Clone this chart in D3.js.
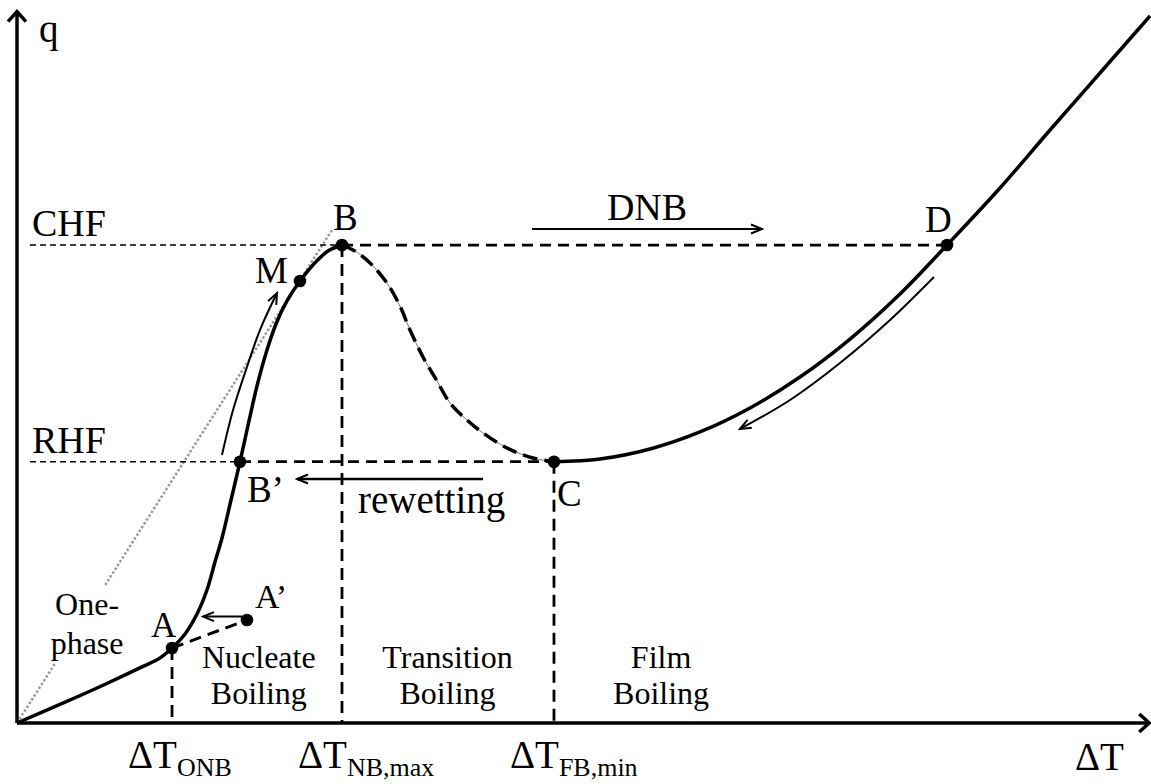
<!DOCTYPE html>
<html><head><meta charset="utf-8">
<script src="https://cdn.jsdelivr.net/npm/d3@7"></script>
<style>
html,body{margin:0;padding:0;background:#fff;}
svg{display:block;}
text{font-family:"Liberation Serif","Times New Roman","DejaVu Serif",serif;fill:#000;}
</style>
</head><body>
<svg id="chart" width="1151" height="784"></svg>
<script>
// ---------- DATA (arbitrary units: ΔT 0-100, q 0-100) ----------
const onePhaseNucleate = [[0,0],[4.0,2.75],[8.0,5.6],[11.2,8.0],[12.6,9.1],[13.72,10.56],
  [14.87,12.54],[15.93,15.35],[16.81,18.73],[17.52,22.68],[18.14,26.06],[18.94,31.41],[19.73,36.76],
  [20.53,42.54],[21.24,47.46],[22.04,52.11],[22.92,56.20],[23.89,59.44],[25.04,62.25],[26.19,64.51],
  [27.52,66.48],[28.76,67.32]];
const transition = [[28.76,67.32],[29.91,66.48],[31.24,64.79],[32.74,61.97],[33.89,58.73],[34.78,55.35],
  [35.93,51.55],[37.17,48.17],[38.32,45.07],[39.82,42.68],[41.24,40.85],[43.36,38.73],[45.66,37.32],[47.52,36.80]];
const film = [[47.52,36.80],[51.59,37.18],[56.02,38.59],[60.44,40.99],[64.87,44.37],[69.29,48.73],
  [73.72,54.08],[78.14,60.42],[82.30,67.32],[86.99,75.35],[91.42,83.52],[95.84,91.55],[100.27,99.58]];
const pointNames = ["A","A’","B","M","B’","C","D"];
const pointX = [13.72,20.35,28.76,25.04,19.73,47.52,82.30];
const pointY = [10.56,14.51,67.32,62.25,36.80,36.80,67.32];
const CHF = 67.32, RHF = 36.80;
const dT_ONB = 13.72, dT_NBmax = 28.76, dT_FBmin = 47.52;
const heatLevelLabels = ["CHF","RHF"];
const tickMain = ["ΔT","ΔT","ΔT"];
const tickSub = ["ONB","NB,max","FB,min"];
const tickPos = [dT_ONB, dT_NBmax, dT_FBmin];
const regionLine1 = ["One-","Nucleate","Transition","Film"];
const regionLine2 = ["phase","Boiling","Boiling","Boiling"];
const regionX = [6.2,21.4,38.1,57.0];
const onsetLine = [[13.72,10.56],[20.35,14.51]];
const onsetArrow = [[19.91,14.99],[16.46,14.99]];
const upArrow = [[18.14,37.75],[19.12,44.08],[20.35,50.14],[21.50,55.35],[23.01,60.56]];
const dnbArrow = [[45.58,69.58],[65.93,69.58]];
const rewetArrow = [[41.24,34.37],[24.78,34.37]];
const returnArrow = [[81.15,62.82],[77.26,56.76],[72.83,50.70],[68.41,45.49],[63.98,41.41]];
const dottedLine = [[0,0],[27.88,69.44]];
const dottedGap = [0.12, 0.28]; // fraction of dotted line hidden behind "One-phase"

// ---------- SCALES ----------
const FONT = "Liberation Serif, Times New Roman, DejaVu Serif, serif";
const svg = d3.select("#chart");
const x = d3.scaleLinear().domain([0,100]).range([17,1147]);
const y = d3.scaleLinear().domain([0,100]).range([723,13]);
const line = d3.line().x(d=>x(d[0])).y(d=>y(d[1]));
const smooth = d3.line().x(d=>x(d[0])).y(d=>y(d[1])).curve(d3.curveCatmullRom.alpha(0.5));

// markers
const defs = svg.append("defs");
defs.append("marker").attr("id","ah").attr("viewBox","-13 -7 15 14")
  .attr("refX",0).attr("refY",0).attr("markerWidth",15).attr("markerHeight",14)
  .attr("markerUnits","userSpaceOnUse").attr("orient","auto")
  .append("path").attr("d","M-11,-4.5 L0,0 L-11,4.5").attr("fill","none")
  .attr("stroke","#000").attr("stroke-width",2);

// ---------- GRAY DOTTED (one-phase extrapolation) ----------
const dl = dottedLine;
const lerp = t => [dl[0][0]+(dl[1][0]-dl[0][0])*t, dl[0][1]+(dl[1][1]-dl[0][1])*t];
[[0,dottedGap[0]],[dottedGap[1],1]].forEach(([a,b])=>{
  svg.append("path").attr("d",line([lerp(a),lerp(b)])).attr("fill","none")
    .attr("stroke","#9a9a9a").attr("stroke-width",2.5).attr("stroke-dasharray","2.5,2");
});

// ---------- REFERENCE DASHED LINES ----------
svg.append("line").attr("x1",30).attr("x2",x(dT_NBmax)).attr("y1",y(CHF)).attr("y2",y(CHF))
  .attr("stroke","#000").attr("stroke-width",1.5).attr("stroke-dasharray","6,4");
svg.append("line").attr("x1",x(dT_NBmax)).attr("x2",x(pointX[6])).attr("y1",y(CHF)).attr("y2",y(CHF))
  .attr("stroke","#000").attr("stroke-width",2.8).attr("stroke-dasharray","11,7");
svg.append("line").attr("x1",30).attr("x2",x(pointX[4])).attr("y1",y(RHF)).attr("y2",y(RHF))
  .attr("stroke","#000").attr("stroke-width",1.5).attr("stroke-dasharray","6,4");
svg.append("line").attr("x1",x(pointX[4])).attr("x2",x(dT_FBmin)).attr("y1",y(RHF)).attr("y2",y(RHF))
  .attr("stroke","#000").attr("stroke-width",2.8).attr("stroke-dasharray","11,7");
[[dT_ONB,pointY[0]],[dT_NBmax,CHF],[dT_FBmin,RHF]].forEach(([t,q])=>{
  svg.append("line").attr("x1",x(t)).attr("x2",x(t)).attr("y1",y(q)).attr("y2",y(0))
    .attr("stroke","#000").attr("stroke-width",2.8).attr("stroke-dasharray","12,7");
});

// ---------- CURVES ----------
svg.append("path").attr("d",smooth(onePhaseNucleate)).attr("fill","none")
  .attr("stroke","#000").attr("stroke-width",3.5);
svg.append("path").attr("d",smooth(transition)).attr("fill","none")
  .attr("stroke","#777").attr("stroke-width",1);
svg.append("path").attr("d",smooth(transition)).attr("fill","none")
  .attr("stroke","#000").attr("stroke-width",3.5).attr("stroke-dasharray","15,7");
svg.append("path").attr("d",smooth(film)).attr("fill","none")
  .attr("stroke","#000").attr("stroke-width",3.5);
svg.append("path").attr("d",line(onsetLine)).attr("fill","none")
  .attr("stroke","#000").attr("stroke-width",3).attr("stroke-dasharray","12,7");

// ---------- ARROWS ----------
[[onsetArrow,2,line],[upArrow,2,smooth],[dnbArrow,2,line],[rewetArrow,2.5,line],[returnArrow,2,smooth]]
 .forEach(([pts,w,gen])=>{
  svg.append("path").attr("d",gen(pts)).attr("fill","none").attr("stroke","#000")
    .attr("stroke-width",w).attr("marker-end","url(#ah)");
 });

// ---------- AXES ----------
const ax = svg.append("g").attr("stroke","#000").attr("stroke-width",3.5).attr("fill","none");
ax.append("line").attr("x1",x(0)).attr("x2",x(100.2)).attr("y1",y(0)).attr("y2",y(0));
ax.append("line").attr("x1",x(0)).attr("x2",x(0)).attr("y1",y(0)).attr("y2",y(100.2));
ax.append("path").attr("d",`M${x(100.2)-10},${y(0)-9} L${x(100.2)},${y(0)} L${x(100.2)-10},${y(0)+9}`);
ax.append("path").attr("d",`M${x(0)-9},${y(100.2)+10} L${x(0)},${y(100.2)} L${x(0)+9},${y(100.2)+10}`);

// ---------- POINTS ----------
svg.selectAll("circle.pt").data(pointNames).enter().append("circle").attr("class","pt")
  .attr("cx",(d,i)=>x(pointX[i])).attr("cy",(d,i)=>y(pointY[i])).attr("r",6.3).attr("fill","#000");

const labOff = [[-21,-11,35],[8,-12,34],[-9,-15,37],[-45,2,37],[7,40,37],[3,44,37],[-22,-13,37]];
svg.selectAll("text.pl").data(pointNames).enter().append("text").attr("class","pl")
  .attr("font-family",FONT)
  .attr("x",(d,i)=>x(pointX[i])+labOff[i][0]).attr("y",(d,i)=>y(pointY[i])+labOff[i][1])
  .attr("font-size",(d,i)=>labOff[i][2]+"px").text(d=>d);

// ---------- TEXT ----------
const T = (px,py,size,str,anchor)=>svg.append("text").attr("font-family",FONT)
  .attr("x",px).attr("y",py).attr("font-size",size+"px").attr("text-anchor",anchor||"start").text(str);
T(39,42,39,"q");
T(32,y(CHF)-9,38,heatLevelLabels[0]);
T(32,y(RHF)-9,38,heatLevelLabels[1]);
T((x(dnbArrow[0][0])+x(dnbArrow[1][0]))/2, y(dnbArrow[0][1])-9, 38, "DNB", "middle");
T(358,513,39,"rewetting");

regionLine1.forEach((t,i)=>{
  T(x(regionX[i]), i===0?615:668, 32, t, "middle");
  T(x(regionX[i]), i===0?654:704, 32, regionLine2[i], "middle");
});

tickPos.forEach((p,i)=>{
  const t = svg.append("text").attr("font-family",FONT).attr("x",x(p)-44).attr("y",768).attr("font-size","39px");
  t.append("tspan").text(tickMain[i]);
  t.append("tspan").attr("font-size","26px").attr("dy",8).text(tickSub[i]);
});
T(1075,770,39,"ΔT");
</script>
</body></html>
